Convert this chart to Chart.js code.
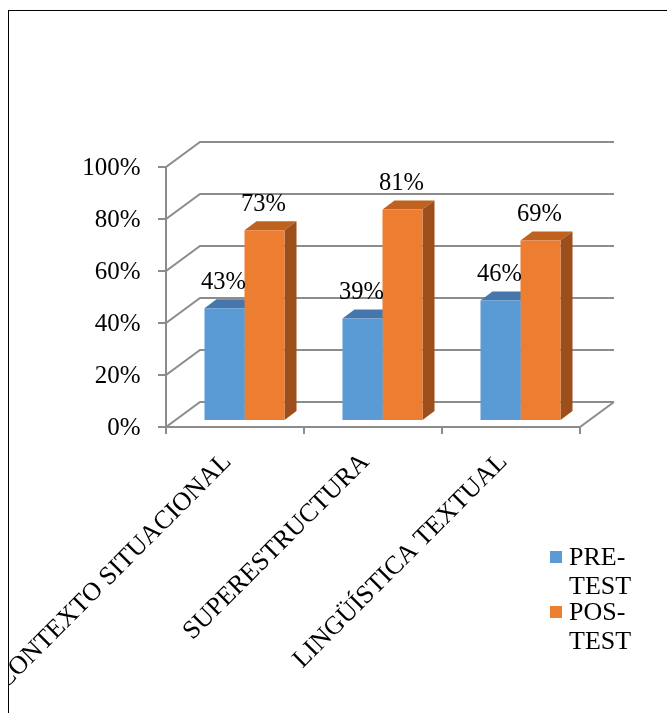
<!DOCTYPE html>
<html>
<head>
<meta charset="utf-8">
<script src="https://cdn.jsdelivr.net/npm/chart.js@4.4.1/dist/chart.umd.min.js"></script>
<style>
  html, body { margin: 0; padding: 0; background: #fff; overflow: hidden; }
  #frame { position: absolute; left: 8px; top: 10px; width: 700px; height: 720px;
           border-left: 1px solid #000; border-top: 1px solid #000; overflow: hidden; }
  canvas { display: block; }
</style>
</head>
<body>
<div id="frame"><canvas id="chart" width="658" height="702"></canvas></div>
<script>
// ---- data ----
const categories = ['CONTEXTO SITUACIONAL', 'SUPERESTRUCTURA', 'LINGÜÍSTICA TEXTUAL'];
const seriesNames = ['PRE-TEST', 'POS-TEST'];
const preTest = [0.43, 0.39, 0.46];
const posTest = [0.73, 0.81, 0.69];
const yTickLabels = ['0%', '20%', '40%', '60%', '80%', '100%'];

// ---- look ----
const FONT = '"Liberation Serif", "Times New Roman", serif';
const FRONT = { x: -9.5, y: 7 };     // floor front edge, relative to the bar plane
const WALL = { x: 34, y: -25 };      // depth of floor / side wall
const BAR_DEPTH = { x: 12, y: -9 };
const GRID_COLOR = '#8c8c8c';

const pct = v => Math.round(v * 100) + '%';

// walls, gridlines and the hidden faces of the bars
const walls3d = {
    id: 'walls3d',
    beforeDatasetsDraw(chart) {
        const { ctx, chartArea: a, scales: { x, y } } = chart;
        const fl = a.left + FRONT.x, fr = a.right + FRONT.x;
        const y0 = y.getPixelForValue(0) + FRONT.y;
        ctx.save();
        ctx.strokeStyle = GRID_COLOR;
        ctx.lineWidth = 2;
        y.ticks.forEach(t => {
            const py = y.getPixelForValue(t.value) + FRONT.y;
            ctx.beginPath();
            ctx.moveTo(fl - 8, py);
            ctx.lineTo(fl, py);
            ctx.lineTo(fl + WALL.x, py + WALL.y);
            ctx.lineTo(fr + WALL.x, py + WALL.y);
            ctx.stroke();
        });
        // floor front and right edge
        ctx.beginPath();
        ctx.moveTo(fl, y0);
        ctx.lineTo(fr, y0);
        ctx.lineTo(fr + WALL.x, y0 + WALL.y);
        ctx.stroke();
        // value axis
        ctx.beginPath();
        ctx.moveTo(fl, y.getPixelForValue(1) + FRONT.y);
        ctx.lineTo(fl, y0);
        ctx.stroke();
        // category ticks
        for (let i = 0; i <= categories.length; i++) {
            const px = x.getPixelForValue(i - 0.5) + FRONT.x;
            ctx.beginPath();
            ctx.moveTo(px, y0);
            ctx.lineTo(px, y0 + 7);
            ctx.stroke();
        }

        // top + side faces (fronts are drawn by Chart.js on top)
        chart.data.datasets.forEach((ds, di) => {
            chart.getDatasetMeta(di).data.forEach(bar => {
                const { x: bx, y: by, width: w, base } = bar.getProps(['x', 'y', 'width', 'base'], true);
                const l = bx - w / 2, r = bx + w / 2;
                ctx.fillStyle = ds.topColor;
                ctx.beginPath();
                ctx.moveTo(l, by);
                ctx.lineTo(l + BAR_DEPTH.x, by + BAR_DEPTH.y);
                ctx.lineTo(r + BAR_DEPTH.x, by + BAR_DEPTH.y);
                ctx.lineTo(r, by);
                ctx.closePath();
                ctx.fill();
                ctx.fillStyle = ds.sideColor;
                ctx.beginPath();
                ctx.moveTo(r, by);
                ctx.lineTo(r + BAR_DEPTH.x, by + BAR_DEPTH.y);
                ctx.lineTo(r + BAR_DEPTH.x, base + BAR_DEPTH.y);
                ctx.lineTo(r, base);
                ctx.closePath();
                ctx.fill();
            });
        });
        ctx.restore();
    },
    afterDatasetsDraw(chart) {
        const { ctx } = chart;
        ctx.save();
        ctx.fillStyle = '#000';
        ctx.font = '24.5px ' + FONT;
        ctx.textAlign = 'center';
        ctx.textBaseline = 'middle';
        chart.data.datasets.forEach((ds, di) => {
            chart.getDatasetMeta(di).data.forEach((bar, i) => {
                ctx.fillText(pct(ds.data[i]), bar.x - 1, bar.y - 26);
            });
        });
        ctx.restore();
    },
    afterDraw(chart) {
        // legend, labels wrapped after the hyphen
        const { ctx } = chart;
        ctx.save();
        ctx.font = '26px ' + FONT;
        ctx.textBaseline = 'alphabetic';
        ctx.textAlign = 'left';
        chart.data.datasets.forEach((ds, di) => {
            const top = 540 + di * 55;
            ctx.fillStyle = ds.backgroundColor;
            ctx.fillRect(541, top, 12, 12);
            ctx.fillStyle = '#000';
            const lines = ds.label.replace('-', '-\n').split('\n');
            lines.forEach((ln, k) => ctx.fillText(ln, 560, top + 14 + k * 29));
        });
        ctx.restore();
    }
};

new Chart(document.getElementById('chart'), {
    type: 'bar',
    data: {
        labels: categories,
        datasets: [
            { label: seriesNames[0], data: preTest, backgroundColor: '#5B9BD5', topColor: '#4677AC', sideColor: '#3F6A98' },
            { label: seriesNames[1], data: posTest, backgroundColor: '#ED7D31', topColor: '#C0621F', sideColor: '#9C4F1B' }
        ]
    },
    options: {
        responsive: false,
        devicePixelRatio: 1,
        animation: false,
        layout: { padding: { left: 66.5, right: 77.5, top: 149, bottom: 0 } },
        datasets: { bar: { categoryPercentage: 0.58, barPercentage: 1, borderWidth: 0 } },
        plugins: { legend: { display: false }, tooltip: { enabled: false } },
        scales: {
            x: {
                grid: { display: false, drawTicks: false },
                border: { display: false },
                ticks: {
                    autoSkip: false, minRotation: 45, maxRotation: 45,
                    color: '#000', font: { family: FONT, size: 26 },
                    padding: 27, labelOffset: -17
                },
                afterFit(s) { s.height = 293; s.paddingLeft = 0; s.paddingRight = 0; }
            },
            y: {
                min: 0, max: 1,
                grid: { display: false, drawTicks: false },
                border: { display: false },
                ticks: {
                    stepSize: 0.2,
                    callback: (v, i) => yTickLabels[i],
                    color: '#000', font: { family: FONT, size: 25 },
                    padding: 35, labelOffset: 8
                },
                afterFit(s) { s.width = 100; s.paddingTop = 0; s.paddingBottom = 0; }
            }
        }
    },
    plugins: [walls3d]
});
</script>
</body>
</html>
